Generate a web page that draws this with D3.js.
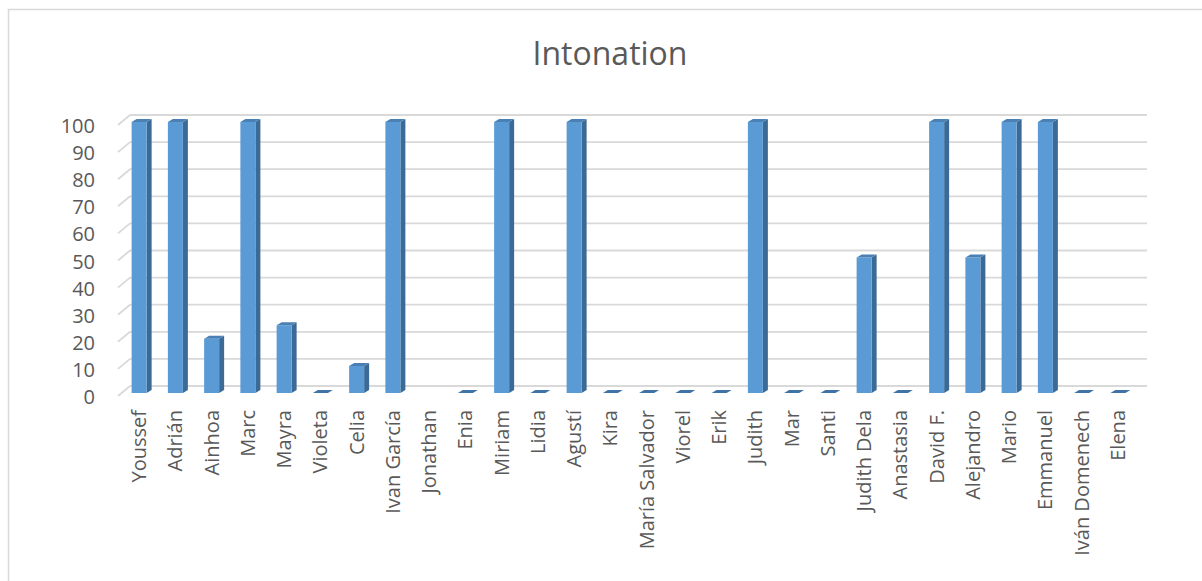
<!DOCTYPE html>
<html>
<head>
<meta charset="utf-8">
<script src="https://cdn.jsdelivr.net/npm/d3@7"></script>
<style>
  html, body { margin: 0; padding: 0; background: #ffffff; }
  svg { display: block; }
  text { font-family: "Open Sans", "Noto Sans", sans-serif; fill: #595959; }
</style>
</head>
<body>
<svg id="chart" width="1202" height="581"></svg>
<script>
// Intonation scores per student (null = no score recorded)
const students = ["Youssef", "Adrián", "Ainhoa", "Marc", "Mayra", "Violeta", "Celia",
  "Ivan García", "Jonathan", "Enia", "Miriam", "Lidia", "Agustí", "Kira",
  "María Salvador", "Viorel", "Erik", "Judith", "Mar", "Santi", "Judith Dela",
  "Anastasia", "David F.", "Alejandro", "Mario", "Emmanuel", "Iván Domenech", "Elena"];
const intonation = [100, 100, 20, 100, 25, 0, 10,
  100, null, 0, 100, 0, 100, 0,
  0, 0, 0, 100, 0, 0, 50,
  0, 100, 50, 100, 100, 0, 0];
const yTicks = [0, 10, 20, 30, 40, 50, 60, 70, 80, 90, 100];
const title = "Intonation";

const svg = d3.select("#chart");

// outer chart frame
svg.append("rect")
  .attr("x", 8.5).attr("y", 9.5)
  .attr("width", 1210).attr("height", 600)
  .attr("fill", "none").attr("stroke", "#d9d9d9").attr("stroke-width", 1.5);

// title
svg.append("text")
  .attr("x", 610).attr("y", 65)
  .attr("text-anchor", "middle")
  .style("font-size", "32px")
  .text(title);

// 3D layout: back wall, floor depth offset, bar depth
const wallLeft = 130, wallRight = 1147;
const depthX = -12, depthY = 10;          // from back wall to front edge
const y = d3.scaleLinear().domain([0, 100]).range([386, 115]); // back wall
const x = d3.scaleBand().domain(students).range([121, 1136]).padding(0);

// gridlines on the back wall and the side wall
const grid = svg.append("g");
yTicks.forEach(t => {
  const gy = y(t);
  grid.append("line")
    .attr("x1", wallLeft).attr("x2", wallRight)
    .attr("y1", gy).attr("y2", gy)
    .attr("stroke", "#d9d9d9").attr("stroke-width", 1.8);
  grid.append("line")
    .attr("x1", wallLeft + depthX).attr("y1", gy + depthY)
    .attr("x2", wallLeft).attr("y2", gy)
    .attr("stroke", "#d9d9d9").attr("stroke-width", 1.8);
});

// value axis labels
svg.append("g").selectAll("text")
  .data(yTicks).join("text")
  .attr("x", 95)
  .attr("y", d => y(d) + depthY + 1)
  .attr("dy", "0.35em")
  .attr("text-anchor", "end")
  .style("font-size", "20px")
  .text(d => d);

// bars: front face, right side, top
const barW = 15, sideDX = 5, sideDY = -3, barOffsetY = 7;
const yBar = v => y(v) + barOffsetY;
const bars = svg.append("g");
students.forEach((name, i) => {
  const v = intonation[i];
  if (v === null) return;
  const cx = x(name) + x.bandwidth() / 2;
  const x0 = cx - barW / 2, x1 = cx + barW / 2;
  const yb = yBar(0), yt = yBar(v);
  if (v > 0) {
    bars.append("path")
      .attr("d", `M${x1},${yb}L${x1 + sideDX},${yb + sideDY}L${x1 + sideDX},${yt + sideDY}L${x1},${yt}Z`)
      .attr("fill", "#3b6a96");
    bars.append("rect")
      .attr("x", x0).attr("y", yt)
      .attr("width", barW).attr("height", yb - yt)
      .attr("fill", "#5b9bd5");
  }
  bars.append("path")
    .attr("d", `M${x0},${yt}L${x0 + sideDX},${yt + sideDY}L${x1 + sideDX},${yt + sideDY}L${x1},${yt}Z`)
    .attr("fill", v > 0 ? "#4a80b4" : "#3f73a5");
});

// category labels
svg.append("g").selectAll("text")
  .data(students).join("text")
  .attr("transform", d => `translate(${x(d) + x.bandwidth() / 2},410) rotate(-90)`)
  .attr("dy", "0.35em")
  .attr("text-anchor", "end")
  .style("font-size", "20px")
  .text(d => d);
</script>
</body>
</html>
